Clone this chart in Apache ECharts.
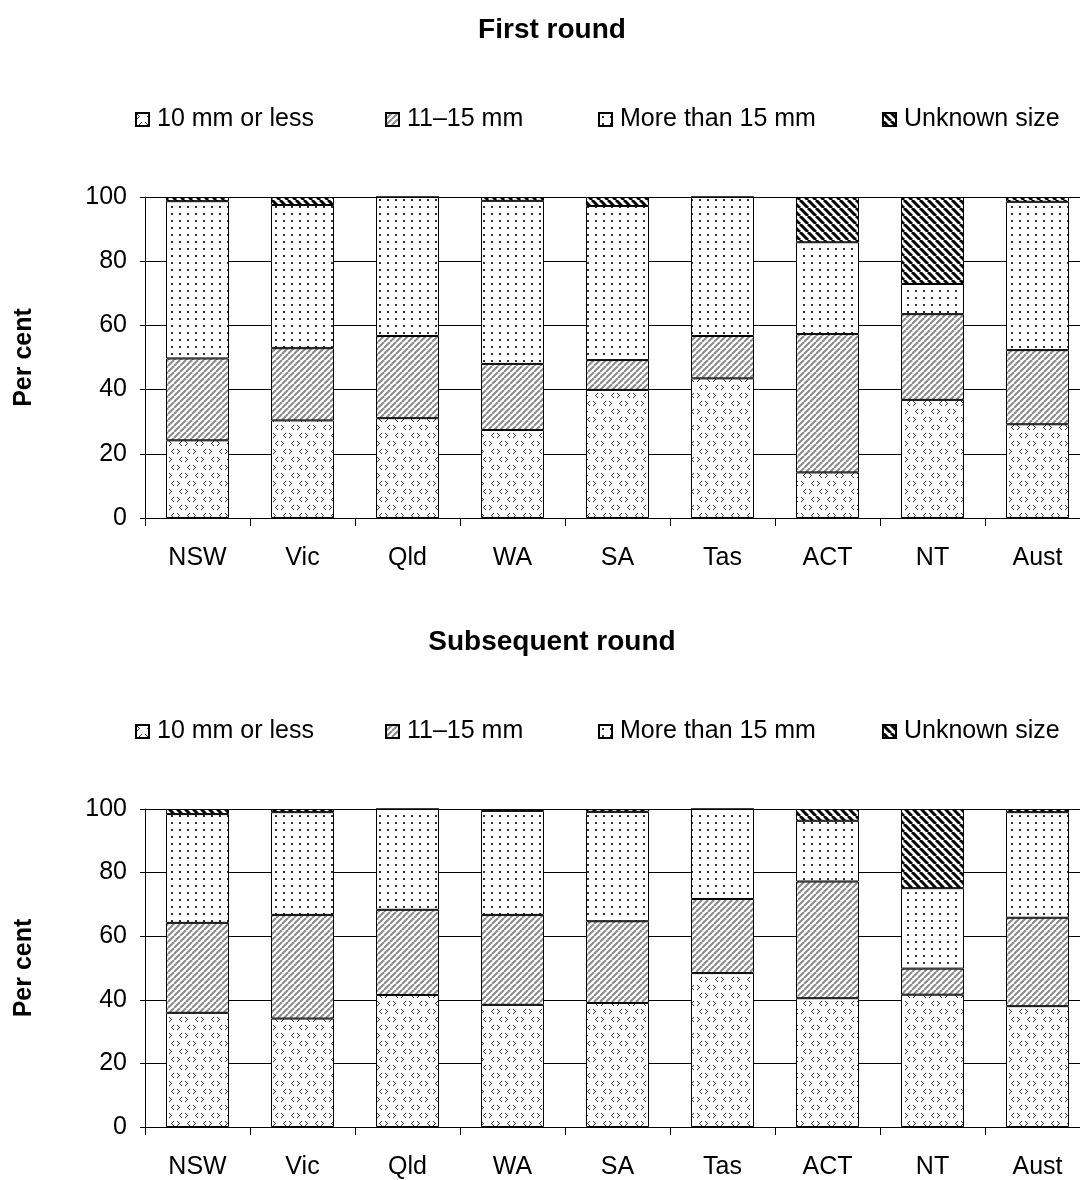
<!DOCTYPE html>
<html>
<head>
<meta charset="utf-8">
<script src="https://cdn.jsdelivr.net/npm/echarts@6/dist/echarts.min.js"></script>
<style>
  html, body { margin: 0; padding: 0; background: #fff; overflow: hidden; width: 1080px; height: 1180px; }
  #chart { width: 1100px; height: 1180px; }
</style>
</head>
<body>
<div id="chart"></div>
<script>
// ---- Data ----
const categories = ['NSW', 'Vic', 'Qld', 'WA', 'SA', 'Tas', 'ACT', 'NT', 'Aust'];
const seriesNames = ['10 mm or less', '11\u201315 mm', 'More than 15 mm', 'Unknown size'];
const yTicks = [0, 20, 40, 60, 80, 100];

// First round (per cent)
const r1Small   = [24.2, 30.4, 31.1, 27.4, 39.9, 43.5, 14.2, 36.8, 29.2];
const r1Mid     = [25.5, 22.5, 25.6, 20.6,  9.3, 13.2, 43.1, 26.7, 23.1];
const r1Large   = [49.0, 44.6, 43.3, 50.8, 48.0, 43.3, 28.6,  9.4, 46.2];
const r1Unknown = [ 1.3,  2.5,  0.0,  1.2,  2.8,  0.0, 14.1, 27.1,  1.5];

// Subsequent round (per cent)
const r2Small   = [35.9, 34.1, 41.5, 38.4, 39.0, 48.4, 40.5, 41.6, 38.0];
const r2Mid     = [28.3, 32.6, 26.8, 28.3, 25.7, 23.3, 36.7,  8.2, 27.8];
const r2Large   = [34.2, 32.3, 31.7, 32.7, 34.4, 28.3, 19.1, 25.3, 33.2];
const r2Unknown = [ 1.6,  1.0,  0.0,  0.6,  0.9,  0.0,  3.7, 24.9,  1.0];

// ---- Patterns ----
function makeCanvas(w, h) {
  const c = document.createElement('canvas');
  c.width = w; c.height = h;
  const ctx = c.getContext('2d');
  ctx.fillStyle = '#fff';
  ctx.fillRect(0, 0, w, h);
  return [c, ctx];
}
function chevronPattern() {
  const [c, ctx] = makeCanvas(16, 16);
  ctx.fillStyle = '#333';
  const right = [[0,0],[1,1],[2,2],[1,3],[0,4]];
  const left  = [[2,0],[1,1],[0,2],[1,3],[2,4]];
  function draw(shape, x, y) { shape.forEach(p => ctx.fillRect(x + p[0], y + p[1], 1, 1)); }
  draw(right, 1, 1); draw(left, 11, 1);
  draw(left, 3, 9);  draw(right, 9, 9);
  return c;
}
function dotPattern() {
  const [c, ctx] = makeCanvas(8, 7);
  ctx.fillStyle = '#333';
  ctx.fillRect(3, 3, 2, 2);
  return c;
}
function grayStripe() {
  const [c, ctx] = makeCanvas(6, 6);
  ctx.strokeStyle = '#8a8a8a';
  ctx.lineWidth = 2;
  for (const k of [-6, 0, 6]) {
    ctx.beginPath(); ctx.moveTo(k, 6); ctx.lineTo(k + 6, 0); ctx.stroke();
  }
  return c;
}
function blackStripe() {
  const [c, ctx] = makeCanvas(8, 8);
  ctx.strokeStyle = '#000';
  ctx.lineWidth = 3;
  for (const k of [-8, 0, 8]) {
    ctx.beginPath(); ctx.moveTo(k, 0); ctx.lineTo(k + 8, 8); ctx.stroke();
  }
  return c;
}
const fills = [
  { image: chevronPattern(), repeat: 'repeat' },
  { image: grayStripe(), repeat: 'repeat' },
  { image: dotPattern(), repeat: 'repeat' },
  { image: blackStripe(), repeat: 'repeat' }
];

const FONT = 'Liberation Sans, Arial, sans-serif';
const round1 = [r1Small, r1Mid, r1Large, r1Unknown];
const round2 = [r2Small, r2Mid, r2Large, r2Unknown];

const series = [];
[round1, round2].forEach((round, gi) => {
  round.forEach((vals, si) => {
    series.push({
      name: seriesNames[si],
      type: 'bar',
      stack: 'round' + gi,
      xAxisIndex: gi,
      yAxisIndex: gi,
      barWidth: 63,
      data: vals,
      itemStyle: { color: fills[si], borderColor: '#000', borderWidth: 1 },
      emphasis: { disabled: true },
      animation: false
    });
  });
});

const legendLefts = [130, 380, 593, 877];
const legendTops = [102, 714];
const legends = [];
legendTops.forEach(top => {
  seriesNames.forEach((n, i) => {
    legends.push({
      data: [n],
      left: legendLefts[i],
      top: top,
      icon: 'rect',
      itemWidth: 13,
      itemHeight: 13,
      selectedMode: false,
      textStyle: { fontFamily: FONT, fontSize: 25, color: '#000', padding: [0, 0, 0, 3] }
    });
  });
});

function makeX(gi) {
  return {
    type: 'category',
    gridIndex: gi,
    data: categories,
    axisLine: { lineStyle: { color: '#000', width: 1 } },
    axisTick: { show: true, length: 8, lineStyle: { color: '#000' } },
    axisLabel: { fontFamily: FONT, fontSize: 25, color: '#000', margin: 28 }
  };
}
function makeY(gi) {
  return {
    type: 'value',
    gridIndex: gi,
    min: yTicks[0],
    max: yTicks[yTicks.length - 1],
    interval: yTicks[1] - yTicks[0],
    name: 'Per cent',
    nameLocation: 'middle',
    nameRotate: 90,
    nameGap: 108,
    nameTextStyle: { fontFamily: FONT, fontSize: 25, fontWeight: 'bold', color: '#000' },
    axisLine: { show: true, lineStyle: { color: '#000', width: 1 } },
    axisTick: { show: true, length: 5, lineStyle: { color: '#000' } },
    axisLabel: { fontFamily: FONT, fontSize: 25, color: '#000', margin: 18 },
    splitLine: { show: true, lineStyle: { color: '#000', width: 1 } }
  };
}

const option = {
  backgroundColor: '#fff',
  animation: false,
  title: [
    { text: 'First round', left: 547, top: 11, textAlign: 'center',
      textStyle: { fontFamily: FONT, fontSize: 28, fontWeight: 'bold', color: '#000' } },
    { text: 'Subsequent round', left: 547, top: 623, textAlign: 'center',
      textStyle: { fontFamily: FONT, fontSize: 28, fontWeight: 'bold', color: '#000' } }
  ],
  legend: legends,
  grid: [
    { left: 145, top: 197, width: 945, height: 321 },
    { left: 145, top: 809, width: 945, height: 322 }
  ],
  xAxis: [makeX(0), makeX(1)],
  yAxis: [makeY(0), makeY(1)],
  series: series
};

const chart = echarts.init(document.getElementById('chart'), null, { renderer: 'canvas' });
chart.setOption(option);
</script>
</body>
</html>
